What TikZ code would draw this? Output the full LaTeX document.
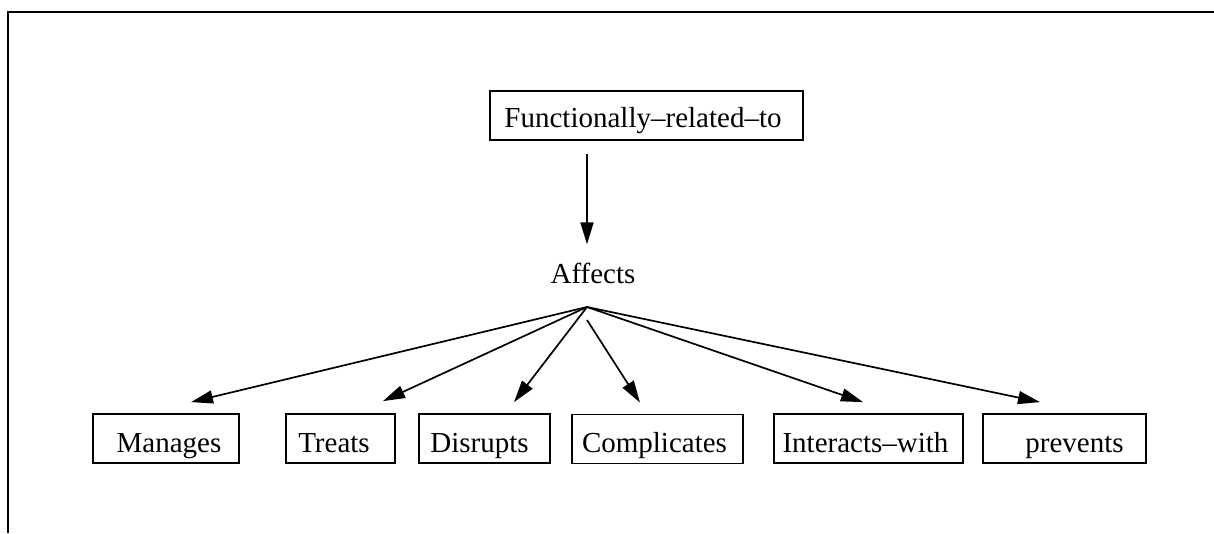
\documentclass[tikz,border=0pt]{standalone}
\usepackage{fontspec}
\setmainfont{Liberation Serif}
\usetikzlibrary{arrows.meta}
% pad a label on one side so it sits off-centre in its box
\newcommand{\padL}[2]{\hspace*{#1}#2}
\newcommand{\padR}[2]{#2\hspace*{#1}}
\begin{document}
\begin{tikzpicture}[x=1pt,y=-1pt,
  every node/.style={font=\fontsize{29}{34}\selectfont},
  relbox/.style={draw,line width=1.8pt,minimum height=49pt,inner sep=0pt,
    text height=30pt,text depth=3pt},
  arr/.style={line width=1.7pt,-{Triangle[length=22pt,width=13pt]}}]
\useasboundingbox (0,0) rectangle (1214,533);
% open frame: top and left edges only
\draw[line width=2pt] (1214,12) -- (8,12) -- (8,533);

% top relation and its specialisation
\node[relbox,minimum width=313pt,text height=28pt,text depth=4pt] (func) at (646.5,115.5) {\padR{7pt}{Functionally--related--to}};
\node[inner sep=0pt,anchor=base] (affects) at (593,283) {Affects};
\coordinate (hub) at (587,307);
\draw[arr,shorten <=13pt,shorten >=18pt] (func.south -| hub) -- (affects.north -| hub);

% sub-relations
\node[relbox,minimum width=146pt] (manages) at (166,438.5) {\padL{6pt}{Manages}};
\node[relbox,minimum width=109pt] (treats) at (340.5,438.5) {\padR{13pt}{Treats}};
\node[relbox,minimum width=131pt] (disrupts) at (484.5,438.5) {\padR{10pt}{Disrupts}};
\node[relbox,minimum width=171pt] (complicates) at (657.5,439) {\padR{6pt}{Complicates}};
\node[relbox,minimum width=189pt] (interacts) at (868.5,438.5) {\padR{6pt}{Interacts--with}};
\node[relbox,minimum width=163pt] (prevents) at (1064.5,438.5) {\padL{20pt}{prevents}};

% fan of arrows from Affects
\draw[arr] (hub) -- ([xshift=25pt,yshift=11pt]manages.north);
\draw[arr] (hub) -- ([xshift=42.5pt,yshift=12pt]treats.north);
\draw[arr] (hub) -- ([xshift=29.5pt,yshift=11pt]disrupts.north);
\draw[arr] ([yshift=-13pt]hub) -- ([xshift=-17.5pt,yshift=11pt]complicates.north);
\draw[arr] (hub) -- ([xshift=-5.5pt,yshift=11pt]interacts.north);
\draw[arr] (hub) -- ([xshift=-24.5pt,yshift=11pt]prevents.north);
\end{tikzpicture}
\end{document}
